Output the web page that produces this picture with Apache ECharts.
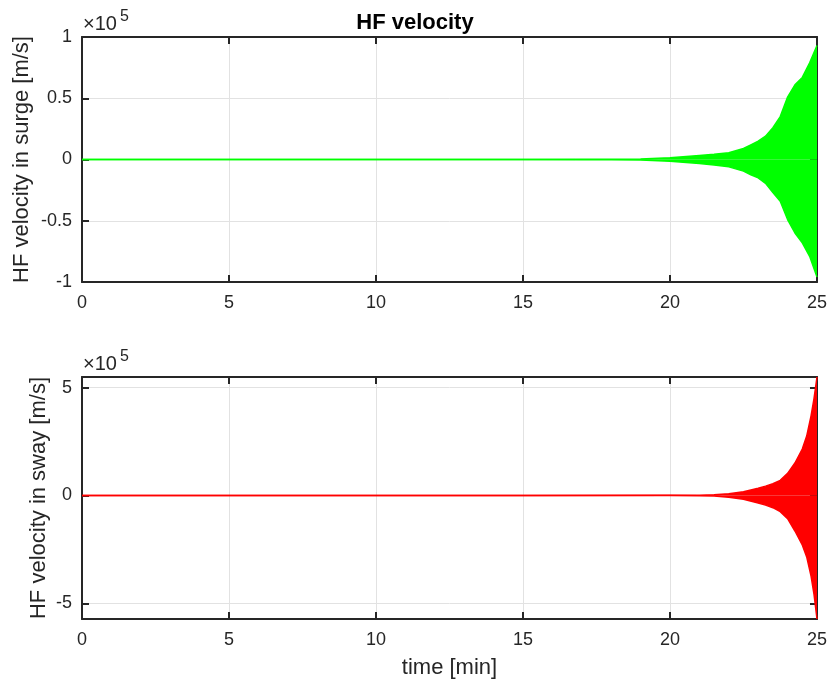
<!DOCTYPE html>
<html>
<head>
<meta charset="utf-8">
<script src="https://cdn.jsdelivr.net/npm/echarts@6/dist/echarts.min.js"></script>
<style>
html,body{margin:0;padding:0;background:#ffffff;}
#chart{width:830px;height:684px;}
</style>
</head>
<body>
<div id="chart"></div>
<script>
// ---- data ----
const timeTicks = [0, 5, 10, 15, 20, 25];            // min
const surgeTicks = [-100000, -50000, 0, 50000, 100000]; // m/s
const swayTicks = [-500000, 0, 500000];                // m/s

// envelope of the HF surge velocity oscillation (m/s)
const surgeTime  = [0, 10, 15, 17, 18, 19, 20, 21, 21.5, 22, 22.5, 22.75, 23, 23.25, 23.5, 23.75, 24, 24.25, 24.5, 24.75, 25];
const surgeUpper = [0, 0, 100, 200, 300, 500, 1400, 3300, 4300, 5500, 9000, 12000, 15000, 19000, 26000, 35000, 51000, 61000, 67000, 79000, 93000];
const surgeLower = [0, 0, -100, -200, -300, -500, -1400, -3300, -4500, -6000, -9500, -12500, -15000, -19500, -27000, -34000, -49000, -60000, -68000, -79000, -96000];

// envelope of the HF sway velocity oscillation (m/s)
const swayTime  = [0, 15, 20, 21, 21.5, 22, 22.5, 23, 23.25, 23.5, 23.75, 24, 24.25, 24.5, 24.65, 24.8, 24.9, 25];
const swayUpper = [0, 0, 500, 1000, 3000, 8000, 17000, 33000, 43000, 54000, 70000, 102000, 150000, 215000, 275000, 370000, 450000, 549000];
const swayLower = [0, 0, -500, -1000, -3000, -8000, -18000, -35000, -45000, -57000, -75000, -108000, -165000, -230000, -285000, -375000, -460000, -573000];

const swayMin = -573000, swayMax = 549000;

// ---- helpers ----
const pairs = (xs, ys) => xs.map((x, i) => [x, ys[i]]);
const FONT = "'Liberation Sans', Arial, Helvetica, sans-serif";
const AX = '#262626';
const GRIDC = '#e2e2e2';
const fmt = v => String(+(v / 1e5).toFixed(2));

const axLine = { show: true, onZero: false, lineStyle: { color: AX, width: 2 } };
const tickStyle = { show: true, inside: true, length: 7, lineStyle: { color: AX, width: 2 } };

function xAxisPair(gi, withName) {
  const base = {
    gridIndex: gi, type: 'value', min: timeTicks[0], max: timeTicks[timeTicks.length - 1], interval: 5,
    axisLine: axLine
  };
  return [
    Object.assign({}, base, {
      position: 'bottom',
      axisTick: tickStyle,
      axisLabel: { show: true, margin: 12, fontSize: 18, color: AX, fontFamily: FONT },
      splitLine: { show: true, lineStyle: { color: GRIDC, width: 1 } },
      name: withName ? 'time [min]' : '',
      nameLocation: 'middle', nameGap: 38, nameMoveOverlap: false,
      nameTextStyle: { fontSize: 22, color: AX, fontFamily: FONT }
    }),
    Object.assign({}, base, {
      position: 'top',
      axisTick: tickStyle,
      axisLabel: { show: false },
      splitLine: { show: false }
    })
  ];
}

const option = {
  animation: false,
  backgroundColor: '#ffffff',
  title: {
    text: 'HF velocity', left: 'center', top: 7,
    textStyle: { fontSize: 22, fontWeight: 'bold', color: '#000000', fontFamily: FONT }
  },
  grid: [
    { left: 82, top: 37, width: 735, height: 245 },
    { left: 82, top: 377, width: 735, height: 242 }
  ],
  xAxis: [].concat(xAxisPair(0, false), xAxisPair(1, true)),
  yAxis: [
    {
      gridIndex: 0, type: 'value', position: 'left', min: surgeTicks[0], max: surgeTicks[surgeTicks.length - 1], interval: 50000,
      axisLine: axLine, axisTick: tickStyle,
      axisLabel: { margin: 10, fontSize: 18, color: AX, fontFamily: FONT, formatter: fmt },
      splitLine: { show: true, lineStyle: { color: GRIDC, width: 1 } },
      name: 'HF velocity in surge [m/s]', nameLocation: 'middle', nameGap: 49, nameRotate: 90, nameMoveOverlap: false,
      nameTextStyle: { fontSize: 22, color: AX, fontFamily: FONT }
    },
    {
      gridIndex: 0, type: 'value', position: 'right', min: surgeTicks[0], max: surgeTicks[surgeTicks.length - 1], interval: 50000,
      axisLine: axLine, axisTick: tickStyle, axisLabel: { show: false }, splitLine: { show: false }
    },
    {
      gridIndex: 1, type: 'value', position: 'left', min: swayMin, max: swayMax,
      axisLine: axLine,
      axisTick: Object.assign({}, tickStyle, { customValues: swayTicks }),
      axisLabel: { margin: 10, fontSize: 18, color: AX, fontFamily: FONT, formatter: fmt, customValues: swayTicks },
      splitLine: { show: true, lineStyle: { color: GRIDC, width: 1 } },
      name: 'HF velocity in sway [m/s]', nameLocation: 'middle', nameGap: 32, nameRotate: 90, nameMoveOverlap: false,
      nameTextStyle: { fontSize: 22, color: AX, fontFamily: FONT }
    },
    {
      gridIndex: 1, type: 'value', position: 'right', min: swayMin, max: swayMax,
      axisLine: axLine,
      axisTick: Object.assign({}, tickStyle, { customValues: swayTicks }),
      axisLabel: { show: false, customValues: swayTicks }, splitLine: { show: false }
    }
  ],
  graphic: [
    { type: 'text', left: 83, top: 14, style: { text: '×10', font: '20px ' + FONT, fill: AX } },
    { type: 'text', left: 120, top: 9, style: { text: '5', font: '16px ' + FONT, fill: AX } },
    { type: 'text', left: 83, top: 354, style: { text: '×10', font: '20px ' + FONT, fill: AX } },
    { type: 'text', left: 120, top: 349, style: { text: '5', font: '16px ' + FONT, fill: AX } }
  ],
  series: [
    { type: 'line', xAxisIndex: 0, yAxisIndex: 0, data: pairs(surgeTime, surgeUpper), showSymbol: false,
      lineStyle: { color: '#00ff00', width: 1.5 }, areaStyle: { color: '#00ff00', opacity: 1 }, z: 3 },
    { type: 'line', xAxisIndex: 0, yAxisIndex: 0, data: pairs(surgeTime, surgeLower), showSymbol: false,
      lineStyle: { color: '#00ff00', width: 1.5 }, areaStyle: { color: '#00ff00', opacity: 1 }, z: 3 },
    { type: 'line', xAxisIndex: 2, yAxisIndex: 2, data: pairs(swayTime, swayUpper), showSymbol: false,
      lineStyle: { color: '#ff0000', width: 1.5 }, areaStyle: { color: '#ff0000', opacity: 1 }, z: 3 },
    { type: 'line', xAxisIndex: 2, yAxisIndex: 2, data: pairs(swayTime, swayLower), showSymbol: false,
      lineStyle: { color: '#ff0000', width: 1.5 }, areaStyle: { color: '#ff0000', opacity: 1 }, z: 3 }
  ]
};

const chart = echarts.init(document.getElementById('chart'), null, { renderer: 'canvas' });
chart.setOption(option);
</script>
</body>
</html>
